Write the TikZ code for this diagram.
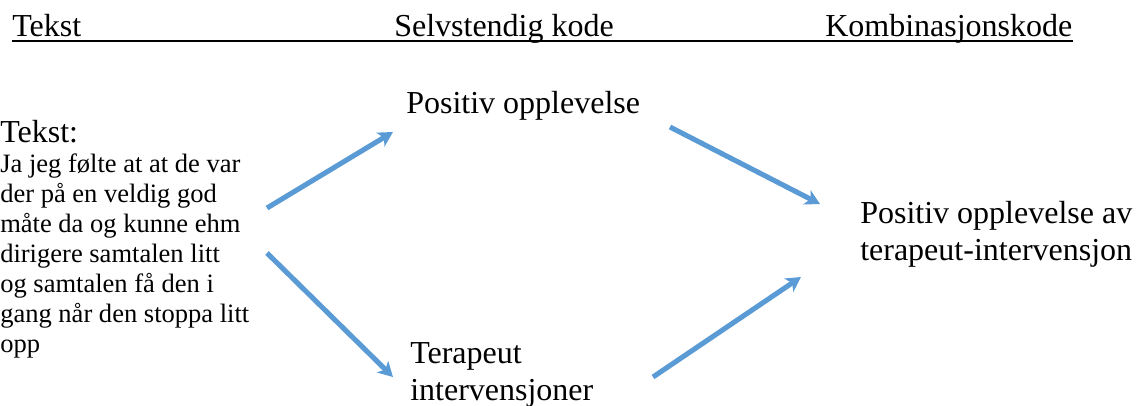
\documentclass[tikz,border=0pt]{standalone}
\usepackage{fontspec}
\setmainfont{Liberation Serif}
\usetikzlibrary{arrows.meta}
\definecolor{arrowblue}{RGB}{91,155,213}
\tikzset{
  big/.style={inner sep=0pt, anchor=base west, align=left, font=\fontsize{24pt}{27.75pt}\selectfont},
  small/.style={inner sep=0pt, anchor=base west, align=left, font=\fontsize{19.9pt}{22.5pt}\selectfont},
  flow/.style={draw=arrowblue, line width=3.8pt, -{Stealth[length=11pt,width=12pt,inset=3pt]}},
  rule/.style={draw=black, line width=0.8pt}
}
\begin{document}
\begin{tikzpicture}[x=0.75pt,y=-0.75pt]
\useasboundingbox (0,0) rectangle (1136,405);
% header
\node[big] (h1) at (12,36) {Tekst};
\node[big] (h2) at (394,36) {Selvstendig kode};
\node[big] (h3) at (825,36) {Kombinasjonskode};
\draw[rule] ([yshift=-3.75pt]h1.base west) -- ([yshift=-3.75pt]h3.base east);
% left text (multi-line nodes: base = last line's baseline)
\node[big] (src) at (0,142) {Tekst:};
\node[small] (quote) at (0,352) {Ja jeg følte at at de var\\der på en veldig god\\måte da og kunne ehm\\dirigere samtalen litt\\og samtalen få den i\\gang når den stoppa litt\\opp};
% codes
\node[big] (pos) at (406,113) {Positiv opplevelse};
\node[big] (ter) at (410,400) {Terapeut\\intervensjoner};
\node[big] (komb) at (860,260) {Positiv opplevelse av\\terapeut-intervensjon};
% arrow end points
\coordinate (a1s) at (267,208);
\coordinate (a1e) at (393,132);
\coordinate (a2s) at (267,253);
\coordinate (a2e) at (393,377);
\coordinate (a3s) at (670,127);
\coordinate (a3e) at (820,204);
\coordinate (a4s) at (653,377);
\coordinate (a4e) at (801,277);
\draw[flow] (a1s) -- (a1e);
\draw[flow] (a2s) -- (a2e);
\draw[flow] (a3s) -- (a3e);
\draw[flow] (a4s) -- (a4e);
\end{tikzpicture}
\end{document}
